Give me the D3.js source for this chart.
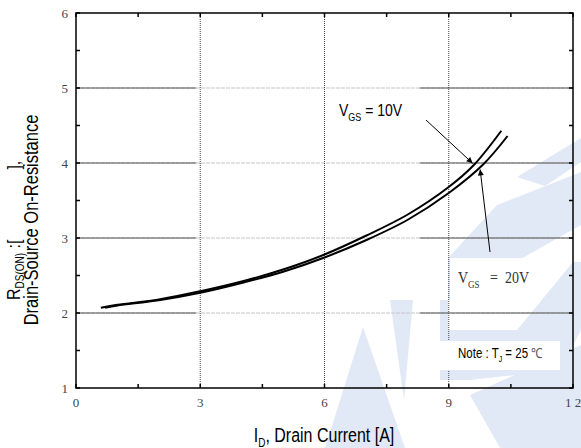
<!DOCTYPE html>
<html>
<head>
<meta charset="utf-8">
<script src="https://cdn.jsdelivr.net/npm/d3@7"></script>
<style>
  body { margin: 0; background: #fff; }
  svg { display: block; }
</style>
</head>
<body>
<div id="chart"></div>
<script>
// drain current [A] and on-resistance
var vgs10Current = [0.6, 1, 2, 3, 4, 5, 6, 7, 8, 9, 9.6, 10.27];
var vgs10Rds     = [2.07, 2.11, 2.18, 2.29, 2.42, 2.58, 2.78, 3.03, 3.31, 3.68, 3.97, 4.43];
var vgs20Current = [0.7, 1, 2, 3, 4, 5, 6, 7, 8, 9, 9.83, 10.42];
var vgs20Rds     = [2.07, 2.10, 2.17, 2.27, 2.40, 2.55, 2.74, 2.97, 3.24, 3.60, 3.98, 4.36];

var xTicks = [0, 3, 6, 9, 12];
var xTickLabels = ["0", "3", "6", "9", "1 2"];
var yTicks = [1, 2, 3, 4, 5, 6];

var width = 581;
var height = 448;
var margin = { left: 76, top: 13, right: 8, bottom: 60 };

var x = d3.scaleLinear().domain([0, 12]).range([margin.left, width - margin.right]);
var y = d3.scaleLinear().domain([1, 6]).range([height - margin.bottom, margin.top]);

var svg = d3.select("#chart").append("svg")
    .attr("width", width)
    .attr("height", height);

// faint logo watermark behind the plot
var watermark = [
    [[363, 327], [325, 448], [405, 448]],
    [[390, 300], [413, 300], [404, 400]],
    [[517, 177], [581, 138], [581, 162], [545, 186]],
    [[497, 205], [581, 172], [581, 225], [448, 300], [448, 258]],
    [[440, 300], [448, 300], [448, 330], [517, 330], [573, 262], [581, 262], [581, 330], [560, 370], [470, 380], [440, 380]],
    [[470, 395], [581, 345], [581, 448], [500, 448]]
];
svg.append("g")
    .selectAll("polygon")
    .data(watermark)
    .enter().append("polygon")
    .attr("points", function(d) { return d.join(" "); })
    .attr("fill", "#e1e9f7");

// horizontal grid: dark ends, light dashed middle
var grid = svg.append("g");
yTicks.slice(1, -1).forEach(function(v) {
    grid.append("line")
        .attr("x1", x(0)).attr("x2", x(12))
        .attr("y1", y(v)).attr("y2", y(v))
        .attr("stroke", "#c4c4c4")
        .attr("stroke-dasharray", "4,1");
    grid.append("line")
        .attr("x1", x(0)).attr("x2", x(2.9))
        .attr("y1", y(v)).attr("y2", y(v))
        .attr("stroke", "#555");
    grid.append("line")
        .attr("x1", x(8.3)).attr("x2", x(12))
        .attr("y1", y(v)).attr("y2", y(v))
        .attr("stroke", "#555");
});
xTicks.slice(1, -1).forEach(function(v) {
    grid.append("line")
        .attr("x1", x(v)).attr("x2", x(v))
        .attr("y1", y(1)).attr("y2", y(6))
        .attr("stroke", "#444")
        .attr("stroke-dasharray", "1,1");
});

// curves
var line = d3.line()
    .x(function(d) { return x(d[0]); })
    .y(function(d) { return y(d[1]); })
    .curve(d3.curveCatmullRom);

var curves = [d3.zip(vgs10Current, vgs10Rds), d3.zip(vgs20Current, vgs20Rds)];
svg.append("g")
    .selectAll("path")
    .data(curves)
    .enter().append("path")
    .attr("d", line)
    .attr("fill", "none")
    .attr("stroke", "#000")
    .attr("stroke-width", 2);

// white label boxes
svg.append("rect").attr("x", 450).attr("y", 258).attr("width", 83).attr("height", 40).attr("fill", "#fff");
svg.append("rect").attr("x", 434).attr("y", 341).attr("width", 126).attr("height", 29).attr("fill", "#fff");

// frame and inward ticks on all four sides
var axisG = svg.append("g");
axisG.append("rect")
    .attr("x", x(0)).attr("y", y(6))
    .attr("width", x(12) - x(0)).attr("height", y(1) - y(6))
    .attr("fill", "none")
    .attr("stroke", "#000")
    .attr("stroke-width", 1.5);

var xMinor = d3.range(0, 12.01, 1.5);
var yMinor = d3.range(1, 6.01, 0.5);
xMinor.forEach(function(v) {
    axisG.append("line").attr("x1", x(v)).attr("x2", x(v))
        .attr("y1", y(1)).attr("y2", y(1) - 4).attr("stroke", "#000").attr("stroke-width", 1.5);
    axisG.append("line").attr("x1", x(v)).attr("x2", x(v))
        .attr("y1", y(6)).attr("y2", y(6) + 4).attr("stroke", "#000").attr("stroke-width", 1.5);
});
yMinor.forEach(function(v) {
    axisG.append("line").attr("x1", x(0)).attr("x2", x(0) + 4)
        .attr("y1", y(v)).attr("y2", y(v)).attr("stroke", "#000").attr("stroke-width", 1.5);
    axisG.append("line").attr("x1", x(12)).attr("x2", x(12) - 4)
        .attr("y1", y(v)).attr("y2", y(v)).attr("stroke", "#000").attr("stroke-width", 1.5);
});

// tick labels
var serif = "'Liberation Serif', serif";
svg.append("g")
    .selectAll("text")
    .data(yTicks)
    .enter().append("text")
    .attr("x", x(0) - 8)
    .attr("y", function(d) { return y(d); })
    .attr("dy", "0.35em")
    .attr("text-anchor", "end")
    .style("font-family", serif)
    .style("font-size", "13px")
    .style("fill", "#444")
    .text(function(d) { return d; });

svg.append("g")
    .selectAll("text")
    .data(xTicks)
    .enter().append("text")
    .attr("x", function(d) { return x(d); })
    .attr("y", y(1) + 19)
    .attr("text-anchor", "middle")
    .style("font-family", serif)
    .style("font-size", "13px")
    .style("fill", "#444")
    .style("white-space", "pre")
    .text(function(d, i) { return xTickLabels[i]; });

// axis titles (glyphs in the source are tall and narrow)
var sans = "'Liberation Sans', Arial, sans-serif";
var xTitle = svg.append("g")
    .attr("transform", "translate(324,442) scale(1,1.3)")
    .append("text")
    .attr("text-anchor", "middle")
    .style("font-family", sans)
    .style("font-size", "16px");
xTitle.append("tspan").text("I");
xTitle.append("tspan").attr("dy", 4).style("font-size", "10px").text("D");
xTitle.append("tspan").attr("dy", -4).text(", Drain Current [A]");

// first title line laid out by hand: R, subscript, bracket pair with an empty gap
var yTitle1 = svg.append("g")
    .attr("transform", "translate(20,300) rotate(-90) scale(1,1.2)")
    .append("text")
    .style("font-family", sans)
    .style("font-size", "16px");
yTitle1.append("tspan").text("R");
yTitle1.append("tspan").attr("dy", 3).style("font-size", "10px").text("DS(ON)");
yTitle1.append("tspan").attr("dy", -3).text(" :[");
yTitle1.append("tspan").attr("dx", 70).text("],");

svg.append("g")
    .attr("transform", "translate(38,220) rotate(-90) scale(1,1.25)")
    .append("text")
    .attr("text-anchor", "middle")
    .style("font-family", sans)
    .style("font-size", "16.5px")
    .text("Drain-Source On-Resistance");

// annotations
var a10 = svg.append("g")
    .attr("transform", "translate(339,116) scale(1,1.15)")
    .append("text")
    .style("font-family", sans)
    .style("font-size", "14px");
a10.append("tspan").text("V");
a10.append("tspan").attr("dy", 4).style("font-size", "9px").text("GS");
a10.append("tspan").attr("dy", -4).text(" = 10V");

var a20 = svg.append("g")
    .attr("transform", "translate(458,283) scale(1,1.2)")
    .append("text")
    .style("font-family", serif)
    .style("font-size", "14px")
    .style("fill", "#333")
    .style("white-space", "pre");
a20.append("tspan").text("V");
a20.append("tspan").attr("dy", 4).style("font-size", "9px").text("GS");
a20.append("tspan").attr("dy", -4).text("   =  20V");

var note = svg.append("g")
    .attr("transform", "translate(458,358) scale(1,1.2)")
    .append("text")
    .style("font-family", sans)
    .style("font-size", "11.5px");
note.append("tspan").text("Note : T");
note.append("tspan").attr("dy", 3).style("font-size", "7px").text("J");
note.append("tspan").attr("dy", -3).text(" = 25");
note.append("tspan").style("font-family", serif).style("fill", "#555").text(" \u2103");

// arrows
var defs = svg.append("defs");
defs.append("marker")
    .attr("id", "head")
    .attr("viewBox", "0 0 10 10")
    .attr("refX", 10).attr("refY", 5)
    .attr("markerWidth", 8).attr("markerHeight", 6)
    .attr("orient", "auto")
    .append("path").attr("d", "M0,0 L10,5 L0,10 z").attr("fill", "#000");

svg.append("line")
    .attr("x1", 426).attr("y1", 120)
    .attr("x2", x(9.6) - 1).attr("y2", y(3.97) - 2)
    .attr("stroke", "#000").attr("stroke-width", 1)
    .attr("marker-end", "url(#head)");
svg.append("line")
    .attr("x1", 490).attr("y1", 252)
    .attr("x2", x(9.83) - 3).attr("y2", y(3.98) + 5)
    .attr("stroke", "#000").attr("stroke-width", 1)
    .attr("marker-end", "url(#head)");
</script>
</body>
</html>
